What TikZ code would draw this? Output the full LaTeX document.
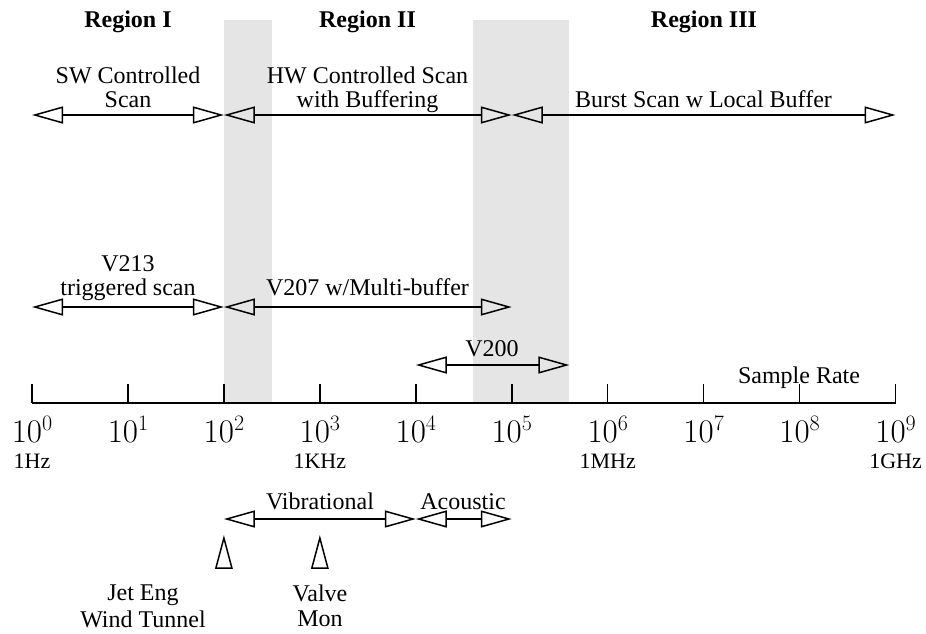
\documentclass[tikz,border=0pt]{standalone}
\usepackage{fontspec}
\newfontfamily\labfont{Liberation Serif}
\usetikzlibrary{arrows.meta}
\definecolor{bandgray}{RGB}{229,229,229}
% power of ten in Latin Modern, with a raised exponent
\newcommand\tenpow[1]{{\fontsize{33}{38}\selectfont 10\raisebox{12pt}{\fontsize{22}{22}\selectfont #1}}}
\begin{document}
\begin{tikzpicture}[x=1pt,y=-1pt,
  opentri/.tip={Triangle[open,length=31pt,width=17pt,line width=1.5pt]},
  spanarrow/.style={line width=1.5pt,opentri-opentri},
  shadeband/.style={fill=bandgray,draw=none},
  lab/.style={font=\labfont\fontsize{24}{24}\selectfont,align=center,inner sep=0pt,anchor=base},
  regiontitle/.style={font=\labfont\bfseries\fontsize{24}{24}\selectfont,inner sep=0pt,anchor=base},
  hzlab/.style={font=\labfont\fontsize{22}{24}\selectfont,inner sep=0pt,anchor=base},
  powlab/.style={inner sep=0pt,anchor=base},
  appmarker/.style={line width=1.5pt,line join=miter}]
\useasboundingbox (0,0) rectangle (926,633);
% one decade on the axis
\def\dx{95.95}
\def\xo{32}
% shaded transition bands
\fill[shadeband] ({\xo+2*\dx},20) rectangle ({\xo+2.5*\dx},403);
\fill[shadeband] ({\xo+4.6*\dx},20) rectangle ({\xo+5.6*\dx},403);
% region titles
\node[regiontitle] (rI)   at (128,27)   {Region I};
\node[regiontitle] (rII)  at (367.5,27) {Region II};
\node[regiontitle] (rIII) at (704,27)   {Region III};
% decade coordinates on each row
\foreach \k in {0,...,9}{
  \coordinate (a\k) at ({\xo+\k*\dx},115);
  \coordinate (b\k) at ({\xo+\k*\dx},307);
  \coordinate (c\k) at ({\xo+\k*\dx},365);
  \coordinate (t\k) at ({\xo+\k*\dx},403);
  \coordinate (u\k) at ({\xo+\k*\dx},384);
  \coordinate (e\k) at ({\xo+\k*\dx},519);
}
\coordinate (c56) at ({\xo+5.6*\dx},365);
% scan modes (multi-line labels are placed by their last baseline)
\draw[spanarrow] (a0) -- (a2);
\draw[spanarrow] (a2) -- (a5);
\draw[spanarrow] (a5) -- (a9);
\node[lab] (sw)    at (128,107)   {SW Controlled\\Scan};
\node[lab] (hw)    at (367.5,107) {HW Controlled Scan\\with Buffering};
\node[lab] (burst) at (703.5,107) {Burst Scan w Local Buffer};
% instruments
\draw[spanarrow] (b0) -- (b2);
\draw[spanarrow] (b2) -- (b5);
\node[lab] (v213) at (128,295)   {V213\\triggered scan};
\node[lab] (v207) at (367.5,295) {V207 w/Multi-buffer};
\draw[spanarrow] (c4) -- (c56);
\node[lab] (v200) at (492,356) {V200};
% frequency axis
\draw[line width=1.5pt] (t0) -- (t9);
\foreach \k in {0,...,9}{
  \draw[line width=1.5pt] (t\k) -- (u\k);
  \node[powlab] (p\k) at ({\xo+\k*\dx},442) {\tenpow{\k}};
}
\node[lab] (rate) at (799,383) {Sample Rate};
\node[hzlab] (hz0) at ({\xo},468)        {1Hz};
\node[hzlab] (hz3) at ({\xo+3*\dx},468) {1KHz};
\node[hzlab] (hz6) at ({\xo+6*\dx},468) {1MHz};
\node[hzlab] (hz9) at ({\xo+9*\dx},468) {1GHz};
% application bands
\draw[spanarrow] (e2) -- (e4);
\draw[spanarrow] (e4) -- (e5);
\node[lab] (vib)  at (320,509) {Vibrational};
\node[lab] (acou) at (463,509) {Acoustic};
% application markers
\foreach \k in {2,3}{
  \draw[appmarker] ({\xo+\k*\dx},538) -- ({\xo+\k*\dx+8},568) -- ({\xo+\k*\dx-8},568) -- cycle;
}
\node[lab,font=\labfont\fontsize{24}{27}\selectfont] (jet) at (143,627) {Jet Eng\\Wind Tunnel};
\node[lab,font=\labfont\fontsize{24}{25}\selectfont] (valve) at (320,626) {Valve\\Mon};
\end{tikzpicture}
\end{document}
